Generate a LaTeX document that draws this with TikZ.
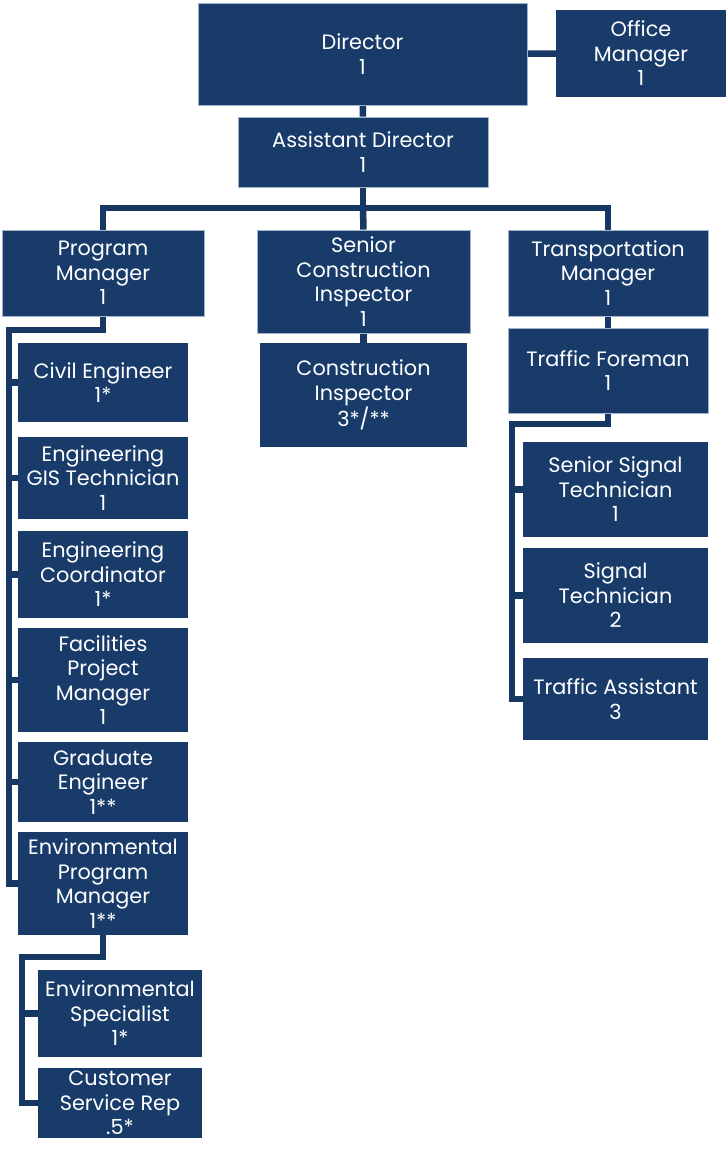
\documentclass[tikz,border=0pt]{standalone}
\usepackage{fontspec}
\setmainfont{Poppins}
\usetikzlibrary{positioning,backgrounds}
\definecolor{navy}{RGB}{25,59,106}
\definecolor{wire}{RGB}{24,56,100}
\definecolor{rim}{RGB}{160,180,205}

\tikzset{
  unit/.style={rectangle,fill=navy,text=white,align=center,inner sep=0pt,
    font=\fontsize{20.8}{24.5}\selectfont},
  rimmed/.style={unit,draw=rim,line width=0.9pt},
  link/.style={wire,line width=6.5pt}
}

\begin{document}
\begin{tikzpicture}[x=1pt,y=-1pt]
  \useasboundingbox (0,0) rectangle (726,1150);
  % top
  \node[rimmed,minimum width=329,minimum height=102] (dir) at (362.5,54) {Director\\1};
  \node[unit,minimum width=170,minimum height=87] (office) at (641,53.5) {Office\\Manager\\1};
  \node[rimmed,minimum width=250,minimum height=70] (asst) at (363,152) {Assistant Director\\1};
  % managers
  \node[rimmed,minimum width=202,minimum height=86] (pm) at (103,273) {Program\\Manager\\1};
  \node[rimmed,minimum width=213,minimum height=103] (sci) at (363.5,281.5) {Senior\\Construction\\Inspector\\1};
  \node[rimmed,minimum width=200,minimum height=86] (tm) at (608,273) {Transportation\\Manager\\1};
  \node[unit,minimum width=207,minimum height=104] (ci) at (363.5,395) {Construction\\Inspector\\3*/**};
  % program staff
  \node[unit,minimum width=170,minimum height=79] (civil) at (103,382.5) {Civil Engineer\\1*};
  \node[unit,minimum width=170,minimum height=82] (gis) at (103,478) {Engineering\\GIS Technician\\1};
  \node[unit,minimum width=170,minimum height=87] (coord) at (103,574.5) {Engineering\\Coordinator\\1*};
  \node[unit,minimum width=170,minimum height=104] (fpm) at (103,680) {Facilities\\Project\\Manager\\1};
  \node[unit,minimum width=170,minimum height=80] (grad) at (103,782) {Graduate\\Engineer\\1**};
  \node[unit,minimum width=170,minimum height=103] (epm) at (103,883.5) {Environmental\\Program\\Manager\\1**};
  \node[unit,minimum width=164,minimum height=87] (spec) at (120,1013.5) {Environmental\\Specialist\\1*};
  \node[unit,minimum width=164,minimum height=70] (csr) at (120,1103) {Customer\\Service Rep\\.5*};
  % traffic staff
  \node[rimmed,minimum width=200,minimum height=85] (tf) at (608,370.5) {Traffic Foreman\\1};
  \node[unit,minimum width=185,minimum height=95] (sst) at (615.5,489.5) {Senior Signal\\Technician\\1};
  \node[unit,minimum width=185,minimum height=95] (st) at (615.5,595.5) {Signal\\Technician\\2};
  \node[unit,minimum width=185,minimum height=82] (ta) at (615.5,699) {Traffic Assistant\\3};

  \begin{scope}[on background layer]
    \draw[link] (dir) -- (office);
    \draw[link] (dir) -- (asst);
    \coordinate (bus) at (363,208);
    \draw[link] (asst.south) -- (bus);
    \draw[link] (bus) -| (pm.north);
    \draw[link] (bus) -- (sci.north);
    \draw[link] (bus) -| (tm.north);
    \draw[link] (sci) -- (ci);
    \draw[link] (tm) -- (tf);
    % program branch
    \coordinate (pmbus) at (9,330);
    \draw[link] (pm.south) |- (pmbus);
    \draw[link,line cap=rect] (pmbus) |- (epm.west);
    \foreach \n in {civil,gis,coord,fpm,grad}
      \draw[link] (pmbus |- \n.west) -- (\n.west);
    % environmental branch
    \coordinate (envbus) at (22,957);
    \draw[link] (epm.south) |- (envbus);
    \draw[link,line cap=rect] (envbus) |- (csr.west);
    \draw[link] (envbus |- spec.west) -- (spec.west);
    % traffic branch
    \coordinate (tfbus) at (512,424);
    \draw[link] (tf.south) |- (tfbus);
    \draw[link,line cap=rect] (tfbus) |- (ta.west);
    \foreach \n in {sst,st}
      \draw[link] (tfbus |- \n.west) -- (\n.west);
  \end{scope}
\end{tikzpicture}
\end{document}
